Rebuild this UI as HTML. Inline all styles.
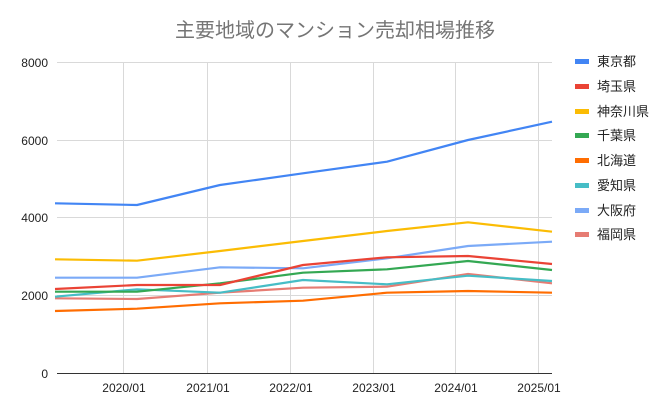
<!DOCTYPE html>
<html><head><meta charset="utf-8"><style>
body{margin:0;background:#fff}
svg text{font-family:"Liberation Sans","Noto Sans CJK JP",sans-serif}
</style></head><body>
<svg width="670" height="411" xmlns="http://www.w3.org/2000/svg">
<rect width="670" height="411" fill="#fff"/>
<text x="335" y="37" text-anchor="middle" font-size="20" fill="#757575">主要地域のマンション売却相場推移</text>
<g stroke="#d9d9d9" stroke-width="1">
<line x1="57" y1="62.5" x2="552" y2="62.5"/>
<line x1="57" y1="140.5" x2="552" y2="140.5"/>
<line x1="57" y1="217.5" x2="552" y2="217.5"/>
<line x1="57" y1="295.5" x2="552" y2="295.5"/>
<line x1="123.5" y1="62" x2="123.5" y2="373"/>
<line x1="207.5" y1="62" x2="207.5" y2="373"/>
<line x1="290.5" y1="62" x2="290.5" y2="373"/>
<line x1="373.5" y1="62" x2="373.5" y2="373"/>
<line x1="455.5" y1="62" x2="455.5" y2="373"/>
<line x1="538.5" y1="62" x2="538.5" y2="373"/>
</g>
<line x1="57" y1="373.5" x2="552" y2="373.5" stroke="#333" stroke-width="1"/>
<g font-size="12" fill="#222" text-anchor="end">
<text x="48" y="67">8000</text><text x="48" y="145">6000</text><text x="48" y="222">4000</text><text x="48" y="300">2000</text><text x="48" y="378">0</text>
</g>
<g font-size="12" fill="#222" text-anchor="middle">
<text x="124" y="392">2020/01</text><text x="208" y="392">2021/01</text><text x="291" y="392">2022/01</text><text x="374" y="392">2023/01</text><text x="456" y="392">2024/01</text><text x="539" y="392">2025/01</text>
</g>
<g fill="none" stroke-width="2.2" stroke-linejoin="round">
<polyline stroke="#e67c73" points="55,298.3 137,299 220,292.7 303,287.7 387,286.7 468,274 552,283.3"/>
<polyline stroke="#7baaf7" points="55,277.7 137,277.7 220,267.3 303,268.3 387,258.3 468,246 552,241.7"/>
<polyline stroke="#46bdc6" points="55,296.7 137,289.3 220,292.7 303,280 387,284.3 468,275.7 552,281"/>
<polyline stroke="#ff6d01" points="55,311 137,308.7 220,303.3 303,300.7 387,292.7 468,291 552,292.7"/>
<polyline stroke="#34a853" points="55,291.7 137,291.7 220,283.3 303,272.7 387,269.3 468,261 552,270"/>
<polyline stroke="#fbbc04" points="55,259.3 137,260.7 220,251 303,241 387,231 468,222.3 552,231.7"/>
<polyline stroke="#ea4335" points="55,289 137,285 220,285 303,265 387,257.3 468,256 552,264"/>
<polyline stroke="#4285f4" points="55,203.3 137,205 220,185 303,173.3 387,161.7 468,140 552,121.7"/>
</g>
<g font-size="13" fill="#222">
<rect x="575" y="59" width="14" height="5" fill="#4285f4"/><text x="597" y="66">東京都</text>
<rect x="575" y="84" width="14" height="5" fill="#ea4335"/><text x="597" y="91">埼玉県</text>
<rect x="575" y="109" width="14" height="5" fill="#fbbc04"/><text x="597" y="116">神奈川県</text>
<rect x="575" y="133" width="14" height="5" fill="#34a853"/><text x="597" y="140">千葉県</text>
<rect x="575" y="158" width="14" height="5" fill="#ff6d01"/><text x="597" y="165">北海道</text>
<rect x="575" y="183" width="14" height="5" fill="#46bdc6"/><text x="597" y="190">愛知県</text>
<rect x="575" y="208" width="14" height="5" fill="#7baaf7"/><text x="597" y="215">大阪府</text>
<rect x="575" y="232" width="14" height="5" fill="#e67c73"/><text x="597" y="239">福岡県</text>
</g>
</svg>
</body></html>
